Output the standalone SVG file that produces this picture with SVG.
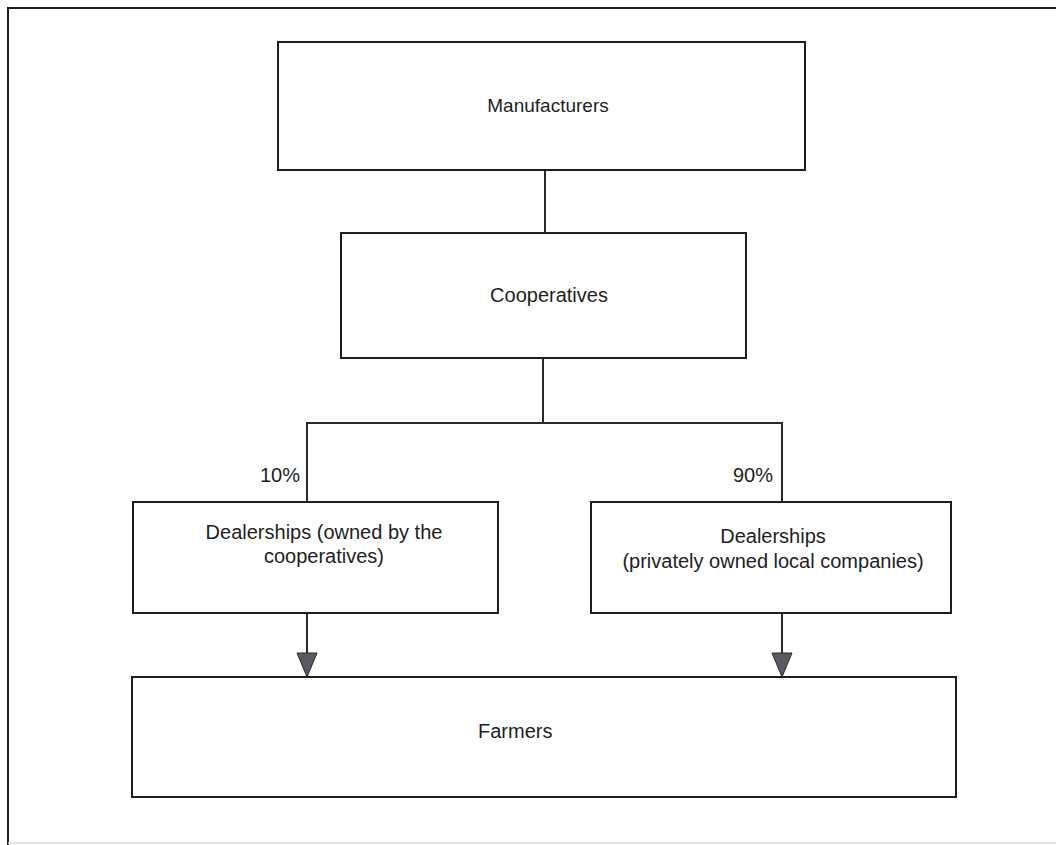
<svg xmlns="http://www.w3.org/2000/svg" width="1056" height="845" viewBox="0 0 1056 845">
  <defs>
    <style>
      .box { fill: #fff; stroke: #1e1e1e; stroke-width: 2; }
      .line { fill: none; stroke: #2a2a2a; stroke-width: 2; }
      .lbl { font-family: "Liberation Sans", Arial, sans-serif; font-size: 20px; fill: #1e1e1e; }
      .mid { text-anchor: middle; }
      .arrowhead { fill: #5a5a60; stroke: #2a2a2a; stroke-width: 1; }
    </style>
  </defs>
  <rect width="1056" height="845" fill="#ffffff"/>
  <g id="frame">
    <path d="M8,845 V8 H1056" fill="none" stroke="#1e1e1e" stroke-width="2"/>
    <line x1="8" y1="843" x2="1056" y2="843" stroke="#d8d8d8" stroke-width="1.5"/>
  </g>
  <g id="connectors">
    <line class="line" x1="545" y1="170" x2="545" y2="233"/>
    <polyline class="line" points="543,358 543,423"/>
    <polyline class="line" points="307,502 307,423 782,423 782,502"/>
    <line class="line" x1="307" y1="613" x2="307" y2="655"/>
    <line class="line" x1="782" y1="613" x2="782" y2="655"/>
    <polygon class="arrowhead" points="297,653 317,653 307,677"/>
    <polygon class="arrowhead" points="772,653 792,653 782,677"/>
    <text class="lbl" x="260" y="482">10%</text>
    <text class="lbl" x="733" y="482">90%</text>
  </g>
  <g id="manufacturers">
    <rect class="box" x="278" y="42" width="527" height="128"/>
    <text class="lbl mid" x="548" y="112" style="font-size:19px">Manufacturers</text>
  </g>
  <g id="cooperatives">
    <rect class="box" x="341" y="233" width="405" height="125"/>
    <text class="lbl mid" x="549" y="302">Cooperatives</text>
  </g>
  <g id="dealerships-coop">
    <rect class="box" x="133" y="502" width="365" height="111"/>
    <text class="lbl mid" x="324" y="539">Dealerships (owned by the</text>
    <text class="lbl mid" x="324" y="563">cooperatives)</text>
  </g>
  <g id="dealerships-private">
    <rect class="box" x="591" y="502" width="360" height="111"/>
    <text class="lbl mid" x="773" y="543">Dealerships</text>
    <text class="lbl mid" x="773" y="568">(privately owned local companies)</text>
  </g>
  <g id="farmers">
    <rect class="box" x="132" y="677" width="824" height="120"/>
    <text class="lbl" x="478" y="738">Farmers</text>
  </g>
</svg>
